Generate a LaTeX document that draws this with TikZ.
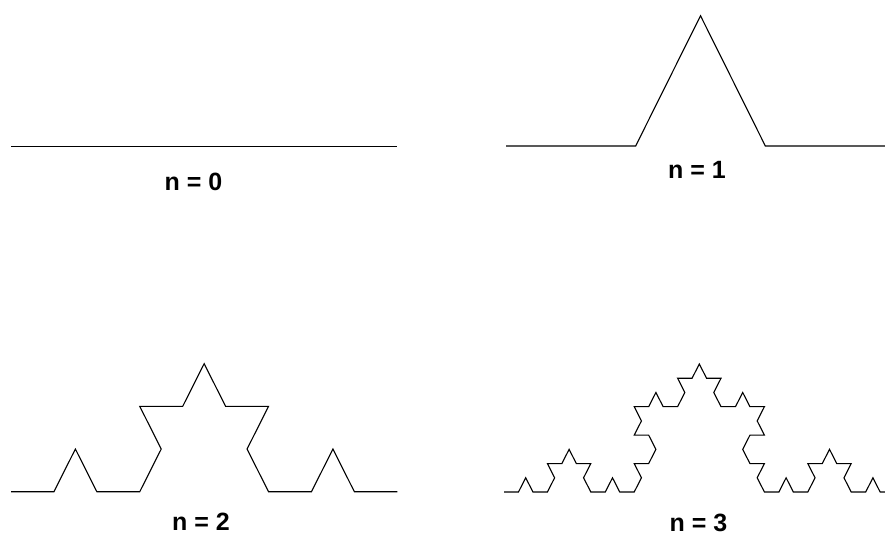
\documentclass[tikz,border=0pt]{standalone}
\usepackage{fontspec}
\setmainfont{Liberation Sans}
\def\kg#1{60*(((#1)==1)-((#1)==2))}
\begin{document}
\begin{tikzpicture}[x=1pt,y=1pt,
  koch/.style={line width=1.1pt, line join=miter, black},
  lbl/.style={font=\fontsize{25}{30}\selectfont\bfseries, inner sep=0pt, anchor=base}]
\useasboundingbox (0,0) rectangle (885,542);
\clip (0,0) rectangle (885,542);
% n = 0
\coordinate (s0) at (11,395.3);
\coordinate (e0) at (397.3,395.3);
\draw[koch] (s0) -- (e0);
% n = 1
\coordinate (s1) at (506,396);
\def\seg{129.667}\def\sy{1.16}
\draw[koch] (s1) \foreach \k [evaluate=\k as \a using {\kg{\k}}] in {0,...,3}{ -- ++({\seg*cos(\a)},{\seg*\sy*sin(\a)}) };
% n = 2
\coordinate (s2) at (11,50.3);
\def\segb{42.922}\def\syb{1.148}
\draw[koch] (s2) \foreach \k [evaluate=\k as \a using {\kg{mod(\k,4)}+\kg{mod(floor(\k/4),4)}}] in {0,...,15}{ -- ++({\segb*cos(\a)},{\segb*\syb*sin(\a)}) };
% n = 3
\coordinate (s3) at (504,50);
\def\segc{14.467}\def\syc{1.135}
\draw[koch] (s3) \foreach \k [evaluate=\k as \a using {\kg{mod(\k,4)}+\kg{mod(floor(\k/4),4)}+\kg{mod(floor(\k/16),4)}}] in {0,...,63}{ -- ++({\segc*cos(\a)},{\segc*\syc*sin(\a)}) };
% labels
\node[lbl] (l0) at (193.5,352) {n = 0};
\node[lbl] (l1) at (697,364) {n = 1};
\node[lbl] (l2) at (201,12) {n = 2};
\node[lbl] (l3) at (698.5,10.3) {n = 3};
\end{tikzpicture}
\end{document}
